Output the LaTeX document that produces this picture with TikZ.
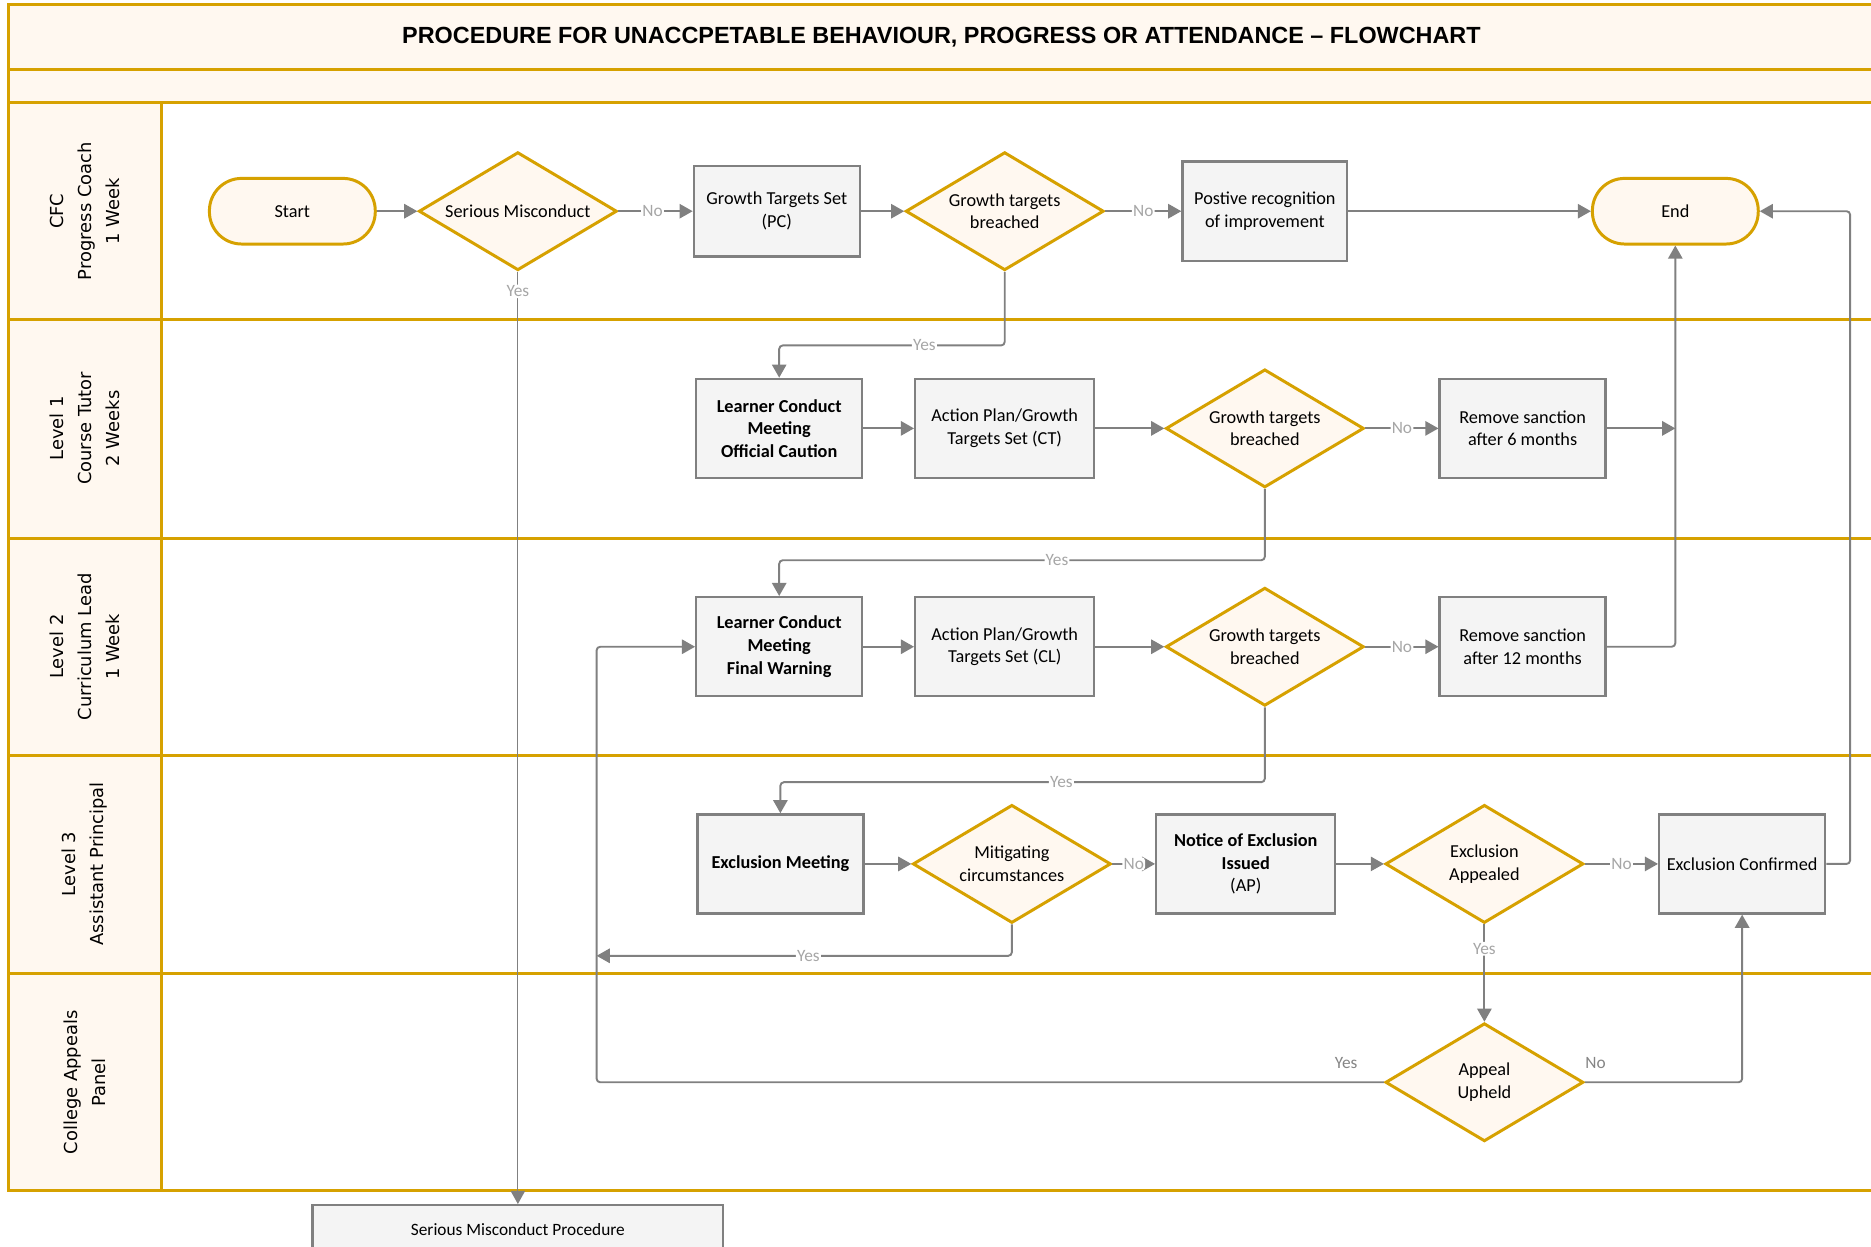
\documentclass[tikz,border=0pt]{standalone}
\usepackage{fontspec}
\setmainfont{Carlito}
\newfontfamily\lanefont{DejaVu Sans}
\newfontfamily\titlefont{Liberation Sans}
\usetikzlibrary{shapes.geometric,arrows.meta}
\definecolor{gold}{RGB}{214,161,0}
\definecolor{cream}{RGB}{255,248,240}
\definecolor{boxgray}{RGB}{244,244,244}
\definecolor{linegray}{RGB}{128,128,128}
\definecolor{lblgray}{RGB}{166,166,166}
\tikzset{
  lanebox/.style={draw=gold, line width=2.5pt},
  lanename/.style={rotate=90, align=center, font=\lanefont\fontsize{15}{23.5}\selectfont},
  term/.style={draw=gold, fill=cream, line width=2.5pt, rounded corners=27pt,
    minimum width=139, minimum height=55, font=\fontsize{15.3}{19}\selectfont},
  dec/.style={diamond, draw=gold, fill=cream, line width=2.5pt, minimum width=166,
    minimum height=99, inner sep=0pt},
  dectxt/.style={align=center, inner sep=0pt, font=\fontsize{15.3}{19}\selectfont},
  proc/.style={draw=linegray, fill=boxgray, line width=2pt, minimum width=139,
    minimum height=83, inner sep=2pt, align=center, font=\fontsize{15.3}{19}\selectfont},
  conn/.style={draw=linegray, line width=1.6pt, rounded corners=3pt,
    -{Triangle[length=11pt,width=12pt]}},
  lbl/.style={fill=white, text=lblgray, inner sep=1pt, font=\fontsize{14.5}{14.5}\selectfont},
  outlbl/.style={text=lblgray!80!black, inner sep=1pt, font=\fontsize{14.5}{14.5}\selectfont}
}
\begin{document}
\begin{tikzpicture}[x=1pt, y=-1pt]
  \useasboundingbox (0,0) rectangle (1568,1045);
  \filldraw[lanebox, fill=cream] (7,4) rectangle (1600,58);
  \filldraw[lanebox, fill=cream] (7,58) rectangle (1600,86);
  \foreach \top/\bot in {86/268, 268/451, 451/633, 633/816, 816/998} {
    \filldraw[lanebox, fill=white] (135,\top) rectangle (1600,\bot);
    \filldraw[lanebox, fill=cream] (7,\top) rectangle (135,\bot);
  }
  \node[font=\titlefont\bfseries\fontsize{19.6}{20}\selectfont] (title) at (789,31)
    {PROCEDURE FOR UNACCPETABLE BEHAVIOUR, PROGRESS OR ATTENDANCE – FLOWCHART};

  \node[lanename] (cfc) at (71,177) {CFC\\Progress Coach\\1 Week};
  \node[lanename] (lvl1) at (71,359) {Level 1\\Course Tutor\\2 Weeks};
  \node[lanename] (lvl2) at (71,542) {Level 2\\Curriculum Lead\\1 Week};
  \node[lanename] (lvl3) at (71,724) {Level 3\\Assistant Principal};
  \node[lanename] (panel) at (71,907) {College Appeals\\Panel};

  \node[term] (start) at (245,177) {Start};
  \node[dec, label={[dectxt]center:Serious Misconduct}] (sm) at (434,177) {};
  \node[proc, minimum height=76] (gts) at (651,177) {Growth Targets Set\\(PC)};
  \node[dec, label={[dectxt]center:Growth targets\\breached}] (gtb1) at (842,177) {};
  \node[proc, minimum width=138] (posrec) at (1060,177) {Postive recognition\\of improvement};
  \node[term] (end) at (1404,177) {End};

  \node[proc, font=\bfseries\fontsize{15.3}{19}\selectfont] (lcm1) at (653,359)
    {Learner Conduct\\Meeting\\Official Caution};
  \node[proc, minimum width=150] (ap1) at (842,359) {Action Plan/Growth\\Targets Set (CT)};
  \node[dec, label={[dectxt]center:Growth targets\\breached}] (gtb2) at (1060,359) {};
  \node[proc] (rs1) at (1276,359) {Remove sanction\\after 6 months};

  \node[proc, font=\bfseries\fontsize{15.3}{19}\selectfont] (lcm2) at (653,542)
    {Learner Conduct\\Meeting\\Final Warning};
  \node[proc, minimum width=150] (ap2) at (842,542) {Action Plan/Growth\\Targets Set (CL)};
  \node[dec, label={[dectxt]center:Growth targets\\breached}] (gtb3) at (1060,542) {};
  \node[proc] (rs2) at (1276,542) {Remove sanction\\after 12 months};

  \node[proc, font=\bfseries\fontsize{15.3}{19}\selectfont] (exm) at (654,724) {Exclusion Meeting};
  \node[dec, label={[dectxt]center:Mitigating\\circumstances}] (mit) at (848,724) {};
  \node[proc, minimum width=150] (noe) at (1044,724) {\textbf{Notice of Exclusion}\\\textbf{Issued}\\(AP)};
  \node[dec, label={[dectxt]center:Exclusion\\Appealed}] (eap) at (1244,724) {};
  \node[proc] (exc) at (1460,724) {Exclusion Confirmed};

  \node[dec, label={[dectxt]center:Appeal\\Upheld}] (upheld) at (1244,907) {};
  \node[proc, anchor=north, minimum width=344, minimum height=40,
    font=\fontsize{14.5}{18}\selectfont] (smp) at (434,1009) {Serious Misconduct Procedure};
  \coordinate (back) at (500,801);

  \draw[conn] (start) -- (sm);
  \draw[conn] (sm) -- node[lbl, pos=0.46] {No} (gts);
  \draw[conn] (gts) -- (gtb1);
  \draw[conn] (gtb1) -- node[lbl] {No} (posrec);
  \draw[conn] (posrec) -- (end);
  \draw[conn, line width=1pt] (sm.south) -- node[lbl, pos=0.021] {Yes} (smp.north);
  \draw[conn] (gtb1.south) |- node[lbl, pos=0.678] {Yes} ([yshift=27pt]lcm1.north) -- (lcm1.north);

  \draw[conn] (lcm1) -- (ap1);
  \draw[conn] (ap1) -- (gtb2);
  \draw[conn] (gtb2) -- node[lbl] {No} (rs1);
  \draw[conn] (rs1) -- (rs1 -| end);
  \draw[conn] (gtb2.south) |- node[lbl, pos=0.714] {Yes} ([yshift=30pt]lcm2.north) -- (lcm2.north);

  \draw[conn] (lcm2) -- (ap2);
  \draw[conn] (ap2) -- (gtb3);
  \draw[conn] (gtb3) -- node[lbl] {No} (rs2);
  \draw[conn] (rs2) -| (end);
  \draw[conn] (gtb3.south) |- node[lbl, pos=0.71] {Yes} ([yshift=26pt]exm.north) -- (exm.north);

  \draw[conn] (exm) -- (mit);
  \draw[conn] (mit) -- node[lbl] {No} (noe);
  \draw[conn] (noe) -- (eap);
  \draw[conn] (eap) -- node[lbl] {No} (exc);
  \draw[conn] (exc.east) -- ++(20,0) |- (end.east);
  \draw[conn] (mit.south) |- node[lbl, pos=0.745] {Yes} (back);
  \draw[conn] (eap.south) -- node[lbl, pos=0.25] {Yes} (upheld.north);

  \draw[conn] (upheld.west) -| node[outlbl, pos=0.024, above, yshift=10pt] {Yes} (back) |- (lcm2.west);
  \draw[conn] (upheld.east) -| node[outlbl, pos=0.034, above, yshift=10pt] {No} (exc.south);
\end{tikzpicture}
\end{document}
